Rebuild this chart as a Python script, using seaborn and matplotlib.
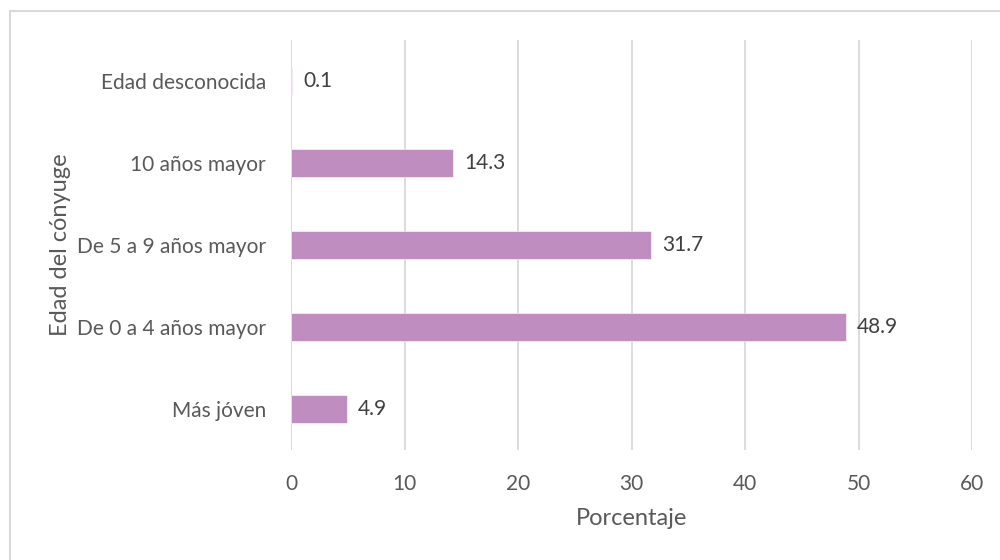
import matplotlib
matplotlib.use("Agg")
import matplotlib.pyplot as plt
from matplotlib.patches import Rectangle
import seaborn as sns
import pandas as pd

# Age of spouse relative to the respondent, share of cases (%)
categorias = ["Edad desconocida", "10 años mayor", "De 5 a 9 años mayor",
              "De 0 a 4 años mayor", "Más jóven"]
porcentajes = [0.1, 14.3, 31.7, 48.9, 4.9]
ticks_x = [0, 10, 20, 30, 40, 50, 60]

df = pd.DataFrame({"categoria": categorias, "porcentaje": porcentajes})

sns.set_theme(style="white")
plt.rcParams["font.family"] = ["Lato", "DejaVu Sans"]

texto = "#595959"
barra = "#BF8DC0"

fig = plt.figure(figsize=(10, 5.6), dpi=100)
ax = fig.add_axes([0.291, 0.1964, 0.681, 0.7322])

sns.barplot(data=df, x="porcentaje", y="categoria", orient="h",
            color=barra, saturation=1, width=0.34,
            edgecolor="white", linewidth=0.4, ax=ax)

ax.set_xlim(0, 60)
ax.set_xticks(ticks_x)
ax.set_xticklabels([str(t) for t in ticks_x])
ax.xaxis.grid(True, color="#D9D9D9", linewidth=1.3)
ax.set_axisbelow(True)
for s in ax.spines.values():
    s.set_visible(False)
ax.axvline(0, color="#D9D9D9", linewidth=1.3, zorder=0)

ax.tick_params(axis="both", length=0, labelsize=15, colors=texto)
ax.tick_params(axis="x", pad=17)
ax.tick_params(axis="y", pad=18)

ax.set_xlabel("Porcentaje", fontsize=17, color=texto)
ax.set_ylabel("Edad del cónyuge", fontsize=17, color=texto)
ax.xaxis.set_label_coords(0.5, -0.142)
ax.yaxis.set_label_coords(-0.323, 0.5)

for cont in ax.containers:
    ax.bar_label(cont, labels=[f"{v:.1f}" for v in porcentajes],
                 padding=8, fontsize=15, color="#404040")

# light frame around the chart area
fig.patches.append(Rectangle((0.010, -0.1), 1.2, 1.08, transform=fig.transFigure,
                             fill=False, edgecolor="#D9D9D9", linewidth=1.5))

fig.savefig("out.png", dpi=100, facecolor="white")
